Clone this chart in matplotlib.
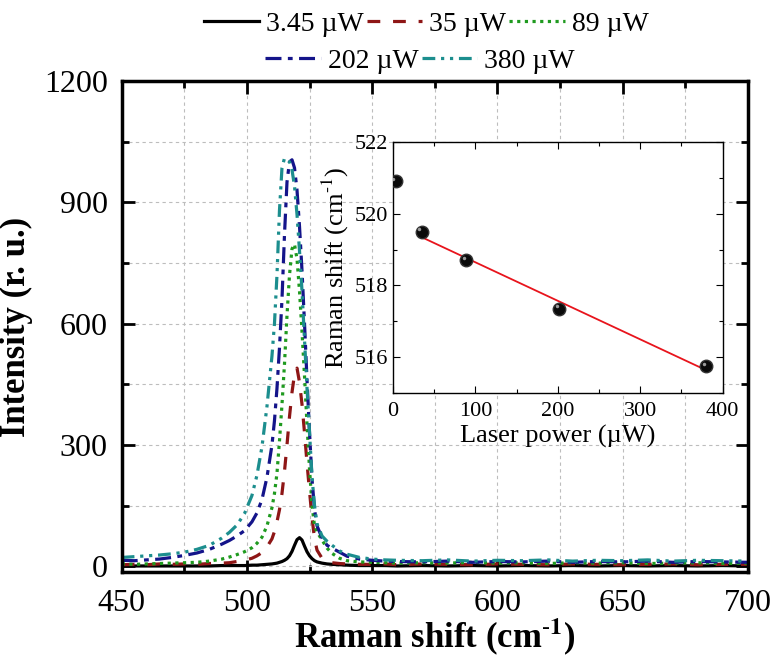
import numpy as np
import matplotlib
matplotlib.use('Agg')
import matplotlib.pyplot as plt
from matplotlib.ticker import MultipleLocator
import matplotlib.transforms as mtransforms

plt.rcParams['font.family'] = ['Liberation Serif', 'DejaVu Serif']
plt.rcParams['mathtext.fontset'] = 'stix'

# Raman spectra (shared wavenumber grid)
shift = [450, 455, 460, 465, 470, 475, 480, 485, 490, 493, 496, 499, 502, 504, 506, 508,
         510, 511, 512, 513, 514, 515, 516, 517, 518, 519, 520, 521, 522, 523, 524, 525,
         526, 527, 528, 530, 532, 534, 537, 540, 545, 550, 555, 560, 570, 580, 590, 600,
         610, 620, 630, 640, 650, 660, 670, 680, 690, 700]

i_345 = [1, 1, 1, 1, 1, 1, 1, 1, 2, 2, 2, 2, 3, 3, 4, 5,
         6, 7, 8, 10, 12, 15, 19, 26, 37, 52, 66, 71, 65, 50, 36, 26,
         19, 14, 11, 8, 6, 5, 4, 3, 2, 2, 2, 1, 2, 1, 2, 1,
         2, 1, 2, 1, 2, 1, 2, 1, 2, 1]

i_35 = [4, 5, 4, 6, 5, 6, 5, 7, 8, 9, 12, 15, 20, 26, 34, 48,
        68, 86, 110, 140, 180, 235, 300, 370, 430, 475, 490, 455, 400, 330, 255, 185,
        120, 68, 40, 20, 12, 9, 7, 6, 5, 5, 6, 4, 6, 5, 4, 6,
        5, 4, 6, 5, 4, 5, 6, 4, 5, 5]

i_89 = [6, 5, 6, 7, 8, 9, 10, 13, 18, 23, 29, 36, 46, 57, 72, 100,
        145, 180, 230, 310, 400, 500, 620, 720, 785, 796, 760, 680, 580, 470, 350, 240,
        150, 100, 85, 65, 45, 32, 20, 14, 11, 10, 9, 8, 9, 8, 10, 8,
        9, 7, 9, 8, 9, 7, 8, 9, 7, 8]

i_202 = [15, 14, 16, 18, 22, 27, 33, 42, 55, 64, 75, 88, 110, 132, 165, 220,
         300, 360, 440, 540, 660, 820, 950, 1000, 1005, 985, 930, 840, 730, 600, 460, 330,
         215, 140, 100, 70, 52, 45, 35, 25, 18, 15, 13, 12, 11, 13, 10, 12,
         11, 13, 10, 12, 11, 13, 10, 12, 11, 10]

i_380 = [22, 24, 26, 28, 31, 35, 42, 52, 70, 84, 102, 130, 175, 225, 295, 395,
         520, 600, 720, 880, 985, 1009, 1005, 1000, 980, 940, 870, 780, 680, 560, 440, 330,
         220, 150, 105, 75, 62, 52, 38, 30, 22, 18, 16, 15, 14, 16, 13, 15,
         14, 16, 13, 15, 14, 16, 13, 15, 14, 13]

labels = ['3.45 µW', '35 µW', '89 µW', '202 µW', '380 µW']
colors = ['#000000', '#8e1616', '#1f9a1f', '#14148a', '#1c8e8e']
styles = ['-', (0, (4, 4)), (0, (1, 1.4)), (0, (5, 2, 1.5, 2)), (0, (4, 1.8, 1, 1.8, 1, 1.8))]

# inset: peak position vs laser power
power = [3.45, 35, 89, 202, 380]
peak_pos = [520.9, 519.5, 518.7, 517.35, 515.75]

fig = plt.figure(figsize=(7.75, 6.61), dpi=100)
ax = fig.add_axes([0.157, 0.1346, 0.808, 0.743])

lines = []
for y, c, ls, lab in zip([i_345, i_35, i_89, i_202, i_380], colors, styles, labels):
    l, = ax.plot(shift, y, color=c, ls=ls, lw=2.3, label=lab)
    lines.append(l)

ax.set_xlim(450, 700)
ax.set_ylim(-14, 1200)
ax.xaxis.set_major_locator(MultipleLocator(50))
ax.xaxis.set_minor_locator(MultipleLocator(25))
ax.yaxis.set_major_locator(MultipleLocator(300))
ax.yaxis.set_minor_locator(MultipleLocator(150))
ax.grid(True, which='both', color='#bdbdbd', ls=(0, (3, 3)), lw=0.8)
ax.tick_params(which='both', direction='in', top=True, right=True, labelsize=23, width=2)
ax.tick_params(which='major', length=9)
ax.tick_params(which='minor', length=5)
ax.tick_params(axis='x', pad=12)
ax.tick_params(axis='y', pad=10)
for s in ax.spines.values():
    s.set_linewidth(2.5)
ax.set_xlabel(r'Raman shift (cm$^{\mathbf{\text{-}1}}$)', fontsize=25, fontweight='bold', labelpad=-1)
ax.set_ylabel('Intensity (r. u.)', fontsize=25, fontweight='bold', labelpad=8)

leg1 = fig.legend(lines[:3], labels[:3], loc='center', bbox_to_anchor=(0.55, 0.963), ncol=3,
                  frameon=False, fontsize=20, handlelength=2.0, handletextpad=0.25, columnspacing=0.1)
leg2 = fig.legend(lines[3:], labels[3:], loc='center', bbox_to_anchor=(0.542, 0.908), ncol=2,
                  frameon=False, fontsize=20, handlelength=2.0, handletextpad=0.25, columnspacing=0.1)

# inset
axi = fig.add_axes([0.507, 0.405, 0.4255, 0.3806])
axi.set_facecolor('white')
fit = np.polyfit(power[1:], peak_pos[1:], 1)
px = np.array([power[1], power[-1]])
axi.plot(px, np.polyval(fit, px), color='#e8141c', lw=1.3, zorder=2)
axi.plot(power, peak_pos, 'o', color='#0a0a0a', mec='#333333', ms=9, zorder=3)
hl = mtransforms.offset_copy(axi.transData, fig=fig, x=-1.8, y=1.8, units='points')
axi.plot(power, peak_pos, 'o', color='#9a9a9a', mec='none', ms=2.5, transform=hl, zorder=4)
axi.set_xlim(0, 400)
axi.set_ylim(515, 522)
axi.xaxis.set_major_locator(MultipleLocator(100))
axi.xaxis.set_minor_locator(MultipleLocator(50))
axi.yaxis.set_major_locator(MultipleLocator(2))
axi.yaxis.set_minor_locator(MultipleLocator(1))
axi.tick_params(which='both', direction='in', top=True, right=True, labelsize=16, width=0.8)
axi.tick_params(which='major', length=5)
axi.tick_params(which='minor', length=3)
axi.tick_params(axis='x', pad=6)
for s in axi.spines.values():
    s.set_linewidth(1.0)
axi.set_xlabel('Laser power (µW)', fontsize=19, labelpad=3)
axi.set_ylabel(r'Raman shift (cm$^{\text{-}1}$)', fontsize=19, labelpad=3)

fig.savefig('out.png', dpi=100)
